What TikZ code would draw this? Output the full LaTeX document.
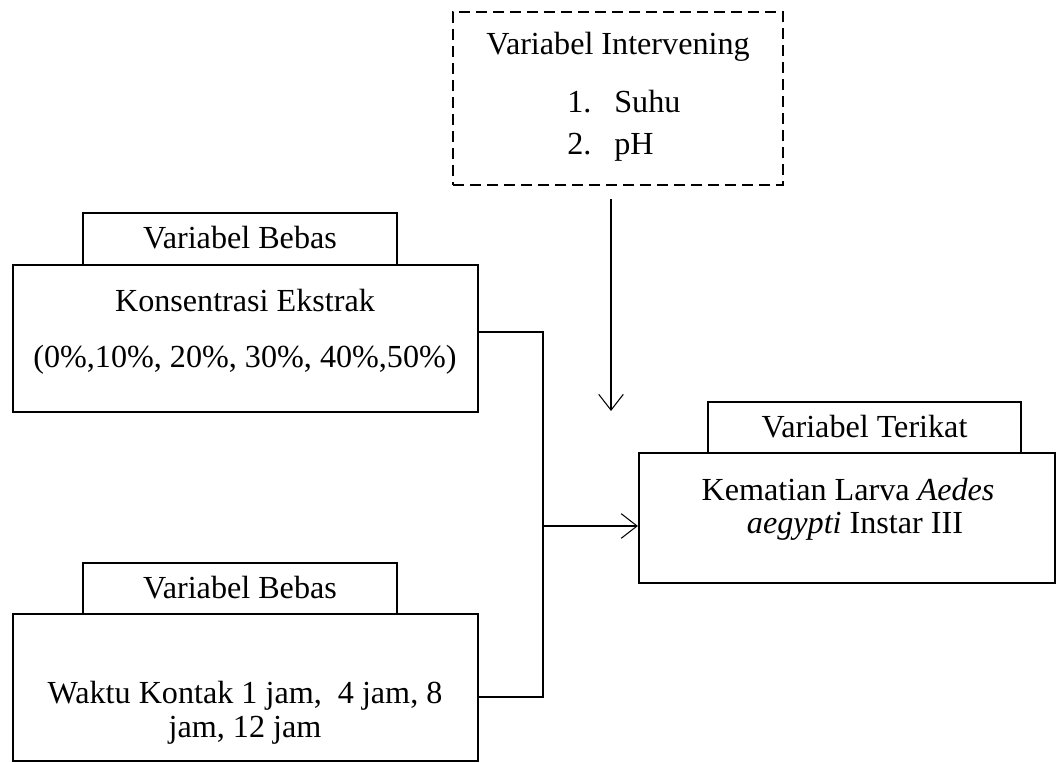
\documentclass[tikz,border=0pt]{standalone}
\usepackage{fontspec}
\setmainfont{Liberation Serif}
\usetikzlibrary{arrows.meta}
\begin{document}
\begin{tikzpicture}[x=0.02cm, y=-0.02cm,
    box/.style={draw, line width=1.3pt, inner sep=0pt},
    txt/.style={font=\fontsize{18.3}{22}\selectfont, inner sep=0pt, text height=15pt, text depth=4pt},
    link/.style={line width=0.6pt},
    tip/.style={-{Straight Barb[length=9pt,width=14pt,line width=0.6pt]}}]
  \useasboundingbox (0,0) rectangle (1063,763);

  % Boxes (left)
  \node[box, minimum width=6.28cm, minimum height=1.04cm] (bebasA) at (240,239) {};
  \node[box, minimum width=9.3cm, minimum height=2.94cm] (konsentrasi) at (245.5,338.5) {};
  \node[box, minimum width=6.28cm, minimum height=1.02cm] (bebasB) at (240,588.5) {};
  \node[box, minimum width=9.3cm, minimum height=2.94cm] (waktu) at (245.5,687.5) {};

  % Boxes (right)
  \node[box, dashed, dash pattern=on 0.22cm off 0.12cm, minimum width=6.6cm, minimum height=3.46cm] (intervening) at (618,98.5) {};
  \node[box, minimum width=6.26cm, minimum height=1.02cm] (terikat) at (864.5,427.5) {};
  \node[box, minimum width=8.32cm, minimum height=2.6cm] (kematian) at (847,518) {};

  % Texts
  \node[txt] (tBebasA) at (bebasA) {Variabel Bebas};
  \node[txt] (tKonsA) at (245,302) {Konsentrasi Ekstrak};
  \node[txt] (tKonsB) at (245,358) {(0\%,10\%, 20\%, 30\%, 40\%,50\%)};
  \node[txt] (tBebasB) at (bebasB) {Variabel Bebas};
  \node[txt] (tWaktuA) at (245,694) {Waktu Kontak 1 jam,\ \ 4 jam, 8};
  \node[txt] (tWaktuB) at (245,728) {jam, 12 jam};
  \node[txt] (tInter) at (618,45) {Variabel Intervening};
  \node[txt, anchor=west] (tNoA) at (567,103) {1.};
  \node[txt, anchor=west] (tSuhu) at (614,103) {Suhu};
  \node[txt, anchor=west] (tNoB) at (567,145) {2.};
  \node[txt, anchor=west] (tPh) at (614,145) {pH};
  \node[txt] (tTerikat) at (terikat) {Variabel Terikat};
  \node[txt] (tKemA) at (848,491) {Kematian Larva \textit{Aedes}};
  \node[txt] (tKemB) at (855,524) {\textit{aegypti} Instar III};

  % Arcs
  \coordinate (jTop) at (543,332);
  \coordinate (jMid) at (543,526);
  \coordinate (jBot) at (543,697);
  \coordinate (downEnd) at (611,411);
  \draw[link] (konsentrasi.east |- jTop) -- (jTop) -- (jBot) -- (waktu.east |- jBot);
  \draw[link, tip] (jMid) -- (kematian.west |- jMid);
  \draw[link, tip] (intervening.south -| downEnd) ++(0,13) -- (downEnd);
\end{tikzpicture}
\end{document}
